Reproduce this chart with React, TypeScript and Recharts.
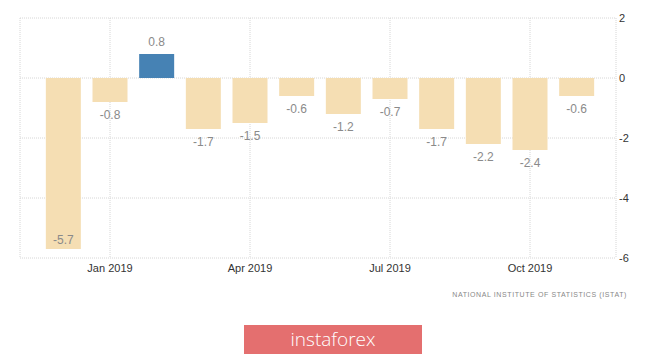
import { BarChart, Bar, XAxis, YAxis, CartesianGrid, Cell, LabelList } from 'recharts';

const months = [
  'Dec 2018', 'Jan 2019', 'Feb 2019', 'Mar 2019', 'Apr 2019', 'May 2019',
  'Jun 2019', 'Jul 2019', 'Aug 2019', 'Sep 2019', 'Oct 2019', 'Nov 2019',
];
const values = [-5.7, -0.8, 0.8, -1.7, -1.5, -0.6, -1.2, -0.7, -1.7, -2.2, -2.4, -0.6];
const xTicks = ['Jan 2019', 'Apr 2019', 'Jul 2019', 'Oct 2019'];
const yTicks = [-6, -4, -2, 0, 2];

const data = months.map((month, i) => ({ month, value: values[i] }));

const FONT = '"Liberation Sans", Arial, sans-serif';
const POS = '#4682b4';
const NEG = '#f5deb3';

interface ValueLabelProps {
  x?: number;
  y?: number;
  width?: number;
  height?: number;
  value?: number;
}

function ValueLabel({ x = 0, y = 0, width = 0, height = 0, value = 0 }: ValueLabelProps) {
  const top = Math.min(y, y + height);
  const bottom = Math.max(y, y + height);
  let ly: number;
  if (value >= 0) {
    ly = top - 12;
  } else if (bottom + 20 > 258) {
    // no room below the plot, put it inside the bar
    ly = bottom - 9;
  } else {
    ly = bottom + 13;
  }
  return (
    <text
      x={x + width / 2}
      y={ly}
      textAnchor="middle"
      dominantBaseline="central"
      fontSize={12}
      fontFamily={FONT}
      fill="#8a8a8a"
    >
      {value}
    </text>
  );
}

export default function App() {
  return (
    <div
      style={{
        position: 'absolute',
        left: 0,
        top: 0,
        width: 665,
        height: 356,
        background: '#fff',
        fontFamily: FONT,
      }}
    >
      <BarChart
        width={665}
        height={300}
        data={data}
        margin={{ top: 18, right: 0, left: 20, bottom: 0 }}
        barCategoryGap="12.5%"
      >
        <CartesianGrid stroke="#d6d6d6" strokeDasharray="1 1" />
        <XAxis
          dataKey="month"
          ticks={xTicks}
          interval={0}
          padding={{ left: 20, right: 16 }}
          axisLine={false}
          tickLine={false}
          tickSize={0}
          tickMargin={6}
          height={42}
          tick={{ fontSize: 11, fill: '#333', fontFamily: FONT }}
        />
        <YAxis
          orientation="right"
          domain={[-6, 2]}
          ticks={yTicks}
          width={49}
          axisLine={false}
          tickLine={false}
          tickSize={0}
          tickMargin={3}
          tick={{ fontSize: 11, fill: '#333', fontFamily: FONT, textAnchor: 'start' }}
        />
        <Bar dataKey="value" isAnimationActive={false}>
          {data.map((d) => (
            <Cell key={d.month} fill={d.value >= 0 ? POS : NEG} />
          ))}
          <LabelList dataKey="value" content={<ValueLabel />} />
        </Bar>
      </BarChart>
      <div
        style={{
          position: 'absolute',
          right: 38,
          top: 291,
          fontSize: 7,
          letterSpacing: 0.6,
          color: '#888',
        }}
      >
        NATIONAL INSTITUTE OF STATISTICS (ISTAT)
      </div>
      <div
        style={{
          position: 'absolute',
          left: 244,
          top: 325,
          width: 178,
          height: 29,
          background: '#e46f6f',
          color: '#fff',
          fontSize: 19,
          lineHeight: '29px',
          textAlign: 'center',
          fontFamily: '"Open Sans", sans-serif',
          fontWeight: 300,
        }}
      >
        instaforex
      </div>
    </div>
  );
}
